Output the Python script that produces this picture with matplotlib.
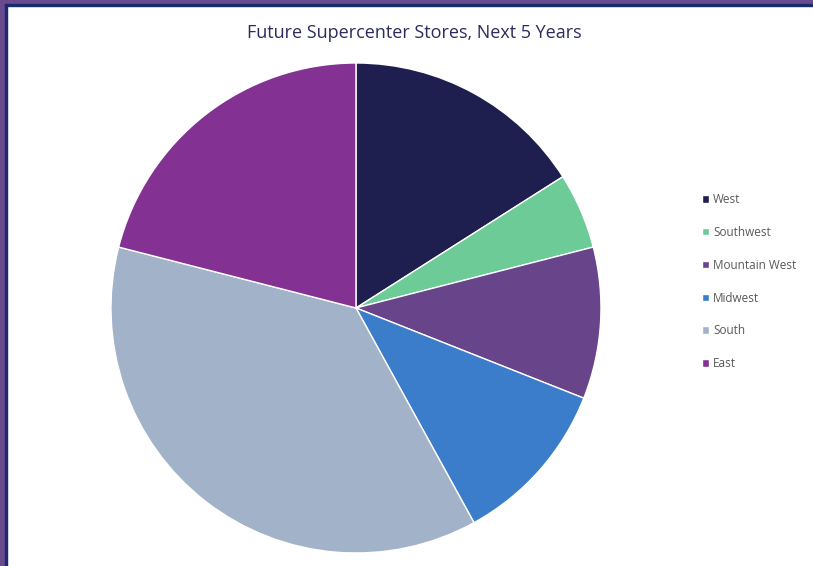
import matplotlib.pyplot as plt
from matplotlib.patches import Rectangle

regions = ['West', 'Southwest', 'Mountain West', 'Midwest', 'South', 'East']
stores = [16, 5, 10, 11, 37, 21]
colors = ['#1e1f4e', '#6dcb97', '#68458a', '#3b7dcb', '#a2b2c8', '#833293']

fig = plt.figure(figsize=(8.13, 5.66), dpi=100)
fig.patch.set_facecolor('white')

# frame on top and left edges
fig.patches.append(Rectangle((0, 1 - 4/566), 1, 4/566, transform=fig.transFigure, color='#6a4a8f', zorder=0))
fig.patches.append(Rectangle((0, 0), 5/813, 1, transform=fig.transFigure, color='#6a4a8f', zorder=0))
fig.patches.append(Rectangle((5/813, 1 - 6/566), 1, 2/566, transform=fig.transFigure, color='#1a2a6a', zorder=0))
fig.patches.append(Rectangle((5/813, 0), 2/813, 1 - 4/566, transform=fig.transFigure, color='#1a2a6a', zorder=0))

ax = fig.add_axes([0.1365, 0.023, 0.6027, 0.8657])
wedges, _ = ax.pie(stores, colors=colors, startangle=90, counterclock=False,
                   wedgeprops={'edgecolor': 'white', 'linewidth': 1})
ax.set_xlim(-1, 1)
ax.set_ylim(-1, 1)
ax.set_aspect('equal')

fig.text(0.509, 1 - 33/566, 'Future Supercenter Stores, Next 5 Years', ha='center', va='center',
         fontsize=13, color='#2b2b5e', family='Open Sans')

leg = fig.legend(wedges, regions, loc='upper left', bbox_to_anchor=(702/813, 1 - 193/566),
                 frameon=False, handlelength=0.6, handleheight=0.6,
                 handletextpad=0.35, labelspacing=1.68, borderpad=0, borderaxespad=0,
                 prop={'family': 'Open Sans', 'size': 8.5})
for t in leg.get_texts():
    t.set_color('#595959')

fig.savefig('out.png', dpi=100)
